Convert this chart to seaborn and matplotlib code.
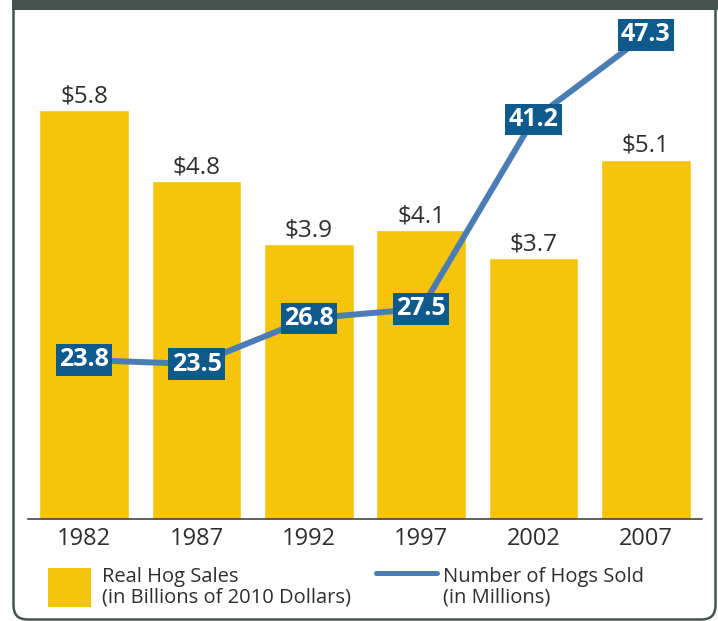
import numpy as np
import matplotlib.pyplot as plt
import seaborn as sns
from matplotlib.patches import FancyBboxPatch, Rectangle
from matplotlib.lines import Line2D
from matplotlib.transforms import IdentityTransform

years = ["1982", "1987", "1992", "1997", "2002", "2007"]
sales = [5.8, 4.8, 3.9, 4.1, 3.7, 5.1]        # billions of 2010 dollars
hogs = [23.8, 23.5, 26.8, 27.5, 41.2, 47.3]   # millions of hogs sold

YELLOW = "#F7C40C"
LINE_BLUE = "#4A7DB5"
BOX_BLUE = "#0F5A8C"
FRAME = "#47534F"
TEXT = "#2E2E2E"

sns.set_theme(style="white")
plt.rcParams["font.family"] = ["Open Sans", "DejaVu Sans"]

W, H = 718, 621
fig = plt.figure(figsize=(W / 100, H / 100), dpi=100, facecolor="white")
pix = IdentityTransform()

# panel outline with rounded bottom corners and dark header band
fig.patches.append(FancyBboxPatch((13.5, 1.5), 702, 700,
                                  boxstyle="round,pad=0,rounding_size=14",
                                  transform=pix, fill=False, ec=FRAME, lw=1.8))
fig.patches.append(Rectangle((12, H - 10), 706, 10, transform=pix,
                             fc=FRAME, ec="none"))

# bars
ax = fig.add_axes([28 / W, 102 / H, 674 / W, 499 / H])
sns.barplot(x=years, y=sales, color=YELLOW, saturation=1, width=0.8, ax=ax)
ax.set_xlim(-0.5, 5.5)
ax.set_ylim(0, 7.08)
for i, v in enumerate(sales):
    ax.annotate(f"${v}", (i, v), xytext=(0, 5.5), textcoords="offset points",
                ha="center", va="baseline", fontsize=17.5, color=TEXT)

# hogs sold line on a second axis
ax2 = ax.twinx()
sns.lineplot(x=np.arange(len(years)), y=hogs, color=LINE_BLUE, lw=4.3, ax=ax2)
ax2.set_ylim(12.3, 48.38)
for i, v in enumerate(hogs):
    ax2.text(i, v, f"{v}", ha="center", va="center", fontsize=18,
             fontweight="bold", color="white", zorder=5,
             bbox=dict(boxstyle="square,pad=0.13", fc=BOX_BLUE, ec="none"))

for a in (ax, ax2):
    a.set_xlabel("")
    a.set_ylabel("")
    a.set_yticks([])
    for s in ("top", "left", "right"):
        a.spines[s].set_visible(False)
ax2.spines["bottom"].set_visible(False)
ax.spines["bottom"].set_color("#333333")
ax.spines["bottom"].set_linewidth(1.1)
ax.set_xticks(range(len(years)))
ax.set_xticklabels(years, fontsize=17, color=TEXT)
ax.tick_params(axis="x", length=0, pad=5.5)

# legend
fig.patches.append(Rectangle((48, H - 607), 43, 39, transform=pix,
                             fc=YELLOW, ec="none"))
fig.text(102 / W, 1 - 587 / H, "Real Hog Sales\n(in Billions of 2010 Dollars)",
         ha="left", va="center", fontsize=14.5, color=TEXT, linespacing=1.05)
fig.lines.append(Line2D([376, 437], [H - 573, H - 573], transform=pix,
                        color=LINE_BLUE, lw=3.6))
fig.text(443 / W, 1 - 587 / H, "Number of Hogs Sold\n(in Millions)",
         ha="left", va="center", fontsize=14.5, color=TEXT, linespacing=1.05)

fig.savefig("out.png", dpi=100, facecolor="white")
